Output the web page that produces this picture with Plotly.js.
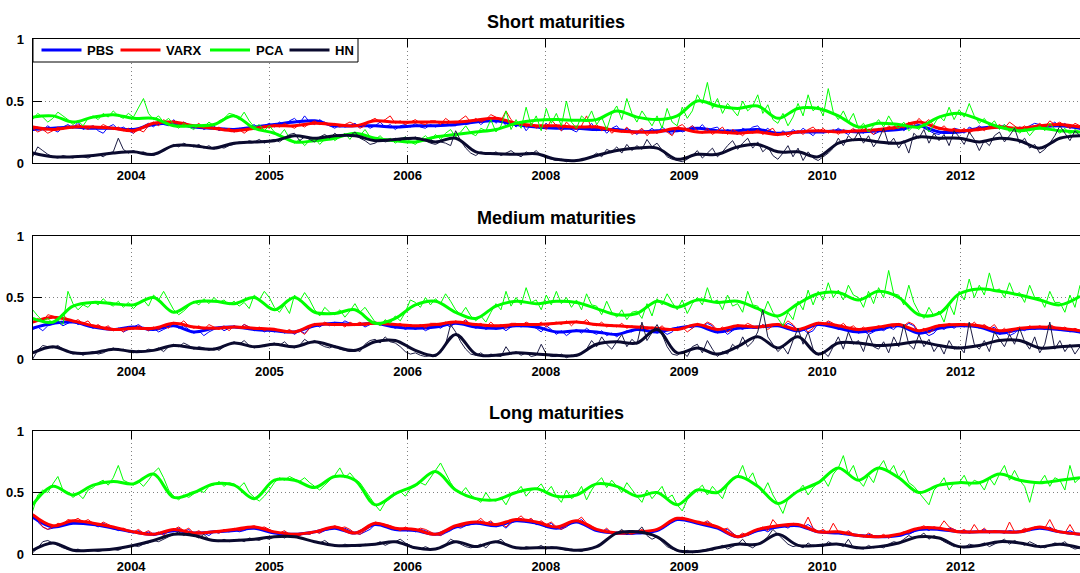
<!DOCTYPE html>
<html>
<head>
<meta charset="utf-8">
<script src="https://cdn.plot.ly/plotly-3.0.1.min.js"></script>
<style>
  html, body { margin: 0; padding: 0; background: #ffffff; }
  #chart { width: 1080px; height: 573px; }
</style>
</head>
<body>
<div id="chart"></div>
<script>
// Model names and tick labels
const models = ['PBS', 'VARX', 'PCA', 'HN'];
const tickPositions = [178, 428, 678, 928, 1178, 1428, 1678];
const tickLabels = ['2004', '2005', '2006', '2008', '2009', '2010', '2012'];
const panelTitles = ['Short maturities', 'Medium maturities', 'Long maturities'];

// ---------- Short maturities ----------
const shortPbsDaily = [.26,.29,.27,.30,.27,.25,.29,.31,.28,.33,.27,.29,.30,.26,.24,.29,.31,.27,.29,.26,.24,.28,.30,.32,.29,.34,.31,.30,.35,.30,.33,.31,.28,.30,.27,.29,.30,.26,.28,.27,.25,.28,.27,.29,.31,.27,.30,.32,.29,.33,.31,.34,.36,.32,.38,.33,.31,.35,.32,.30,.28,.31,.29,.30,.32,.29,.31,.28,.30,.33,.29,.31,.27,.30,.31,.29,.32,.29,.28,.31,.29,.31,.33,.30,.30,.34,.31,.32,.35,.31,.34,.37,.32,.36,.30,.33,.29,.33,.26,.31,.30,.27,.32,.28,.31,.26,.29,.27,.25,.30,.28,.32,.26,.29,.24,.28,.30,.25,.28,.26,.23,.27,.25,.28,.24,.29,.26,.23,.28,.25,.27,.30,.27,.31,.26,.28,.29,.24,.27,.25,.23,.28,.26,.29,.30,.25,.28,.24,.22,.26,.23,.27,.24,.28,.25,.22,.27,.24,.26,.25,.28,.25,.23,.27,.26,.24,.27,.23,.25,.28,.26,.29,.30,.26,.29,.33,.31,.28,.26,.24,.23,.26,.25,.28,.27,.24,.29,.27,.30,.27,.29,.31,.28,.31,.27,.26,.29,.28,.30,.32,.31,.28,.30,.33,.29,.32,.28,.30,.27];
const shortPbsSmooth = [.27,.28,.29,.28,.28,.27,.31,.32,.29,.28,.27,.29,.31,.33,.34,.30,.30,.30,.29,.30,.30,.31,.33,.34,.31,.29,.28,.28,.27,.27,.25,.26,.26,.28,.26,.26,.27,.24,.25,.25,.26,.25,.26,.27,.30,.25,.25,.28,.29,.27,.29,.30,.28];
const shortVarxDaily = [.28,.25,.27,.24,.26,.29,.27,.30,.28,.31,.29,.27,.30,.28,.31,.29,.27,.29,.26,.28,.24,.27,.25,.30,.33,.30,.35,.32,.34,.31,.33,.30,.29,.32,.28,.30,.27,.29,.26,.28,.25,.27,.24,.27,.29,.27,.30,.28,.31,.29,.32,.30,.28,.31,.29,.32,.34,.31,.33,.30,.32,.29,.31,.33,.31,.28,.30,.34,.36,.33,.35,.38,.32,.34,.31,.33,.35,.32,.31,.34,.34,.31,.36,.33,.32,.35,.38,.33,.36,.33,.35,.39,.37,.34,.42,.35,.31,.33,.29,.32,.28,.31,.27,.35,.30,.26,.33,.29,.27,.30,.38,.28,.31,.26,.29,.24,.27,.25,.29,.23,.25,.28,.22,.26,.24,.27,.25,.22,.29,.31,.27,.30,.26,.24,.28,.23,.26,.29,.23,.27,.25,.22,.26,.24,.27,.23,.26,.28,.22,.25,.21,.24,.26,.23,.27,.29,.25,.28,.24,.27,.23,.27,.25,.28,.24,.29,.26,.23,.28,.25,.30,.27,.31,.28,.33,.30,.36,.32,.35,.30,.27,.30,.26,.28,.25,.28,.24,.27,.29,.26,.30,.28,.31,.28,.33,.30,.27,.30,.26,.29,.32,.29,.34,.31,.33,.30,.28,.32,.30];
const shortVarxSmooth = [.29,.27,.29,.29,.28,.26,.32,.33,.30,.28,.26,.28,.30,.30,.32,.31,.30,.34,.33,.33,.33,.33,.345,.36,.32,.30,.30,.29,.29,.26,.25,.25,.28,.25,.25,.24,.25,.23,.25,.26,.25,.26,.27,.29,.33,.28,.26,.27,.29,.28,.30,.31,.29];
const shortPcaDaily = [.35,.40,.37,.33,.36,.41,.38,.35,.31,.34,.30,.36,.38,.35,.40,.37,.42,.38,.36,.40,.37,.44,.52,.40,.35,.38,.33,.36,.31,.28,.32,.29,.27,.31,.29,.33,.30,.34,.36,.40,.39,.35,.41,.34,.29,.31,.26,.30,.25,.22,.27,.20,.16,.19,.14,.18,.20,.15,.19,.22,.18,.21,.24,.19,.25,.22,.27,.21,.19,.22,.18,.20,.16,.19,.21,.17,.15,.19,.22,.18,.23,.19,.24,.27,.21,.25,.30,.24,.22,.28,.26,.35,.25,.30,.42,.27,.35,.28,.45,.30,.38,.26,.44,.32,.40,.30,.50,.33,.28,.38,.34,.42,.31,.37,.27,.40,.46,.35,.52,.40,.33,.42,.36,.30,.38,.28,.44,.33,.30,.45,.36,.42,.55,.48,.65,.44,.52,.40,.48,.43,.38,.50,.42,.46,.55,.40,.47,.35,.32,.40,.30,.37,.48,.38,.55,.42,.46,.38,.60,.41,.35,.42,.33,.40,.28,.32,.25,.30,.35,.29,.38,.31,.28,.33,.26,.30,.27,.32,.25,.31,.38,.34,.45,.35,.43,.37,.48,.38,.32,.36,.30,.34,.27,.31,.25,.29,.24,.28,.22,.27,.30,.26,.32,.27,.24,.28,.23,.27,.25];
const shortPcaSmooth = [.37,.38,.33,.37,.39,.36,.36,.30,.30,.31,.38,.28,.24,.17,.18,.20,.24,.20,.18,.17,.21,.23,.25,.27,.32,.345,.35,.345,.35,.42,.37,.35,.38,.50,.46,.44,.46,.36,.44,.44,.38,.29,.32,.31,.29,.37,.40,.35,.29,.26,.28,.26,.25];
const shortHnDaily = [.05,.13,.10,.07,.05,.04,.06,.05,.04,.06,.05,.04,.06,.07,.05,.08,.09,.20,.11,.08,.10,.08,.09,.07,.06,.08,.10,.12,.15,.13,.16,.14,.13,.15,.12,.14,.11,.13,.12,.14,.15,.17,.16,.18,.17,.19,.16,.18,.19,.17,.20,.23,.24,.18,.21,.19,.17,.21,.23,.20,.24,.21,.23,.22,.25,.20,.18,.15,.16,.19,.17,.18,.20,.18,.21,.19,.21,.19,.18,.16,.15,.17,.16,.14,.26,.18,.12,.08,.06,.09,.08,.07,.09,.06,.08,.10,.07,.05,.09,.07,.10,.06,.04,.03,.02,.03,.01,.02,.02,.03,.04,.05,.08,.05,.11,.09,.13,.08,.15,.10,.14,.11,.19,.13,.16,.10,.05,.03,.02,.01,.03,.06,.10,.04,.08,.12,.05,.09,.14,.18,.11,.16,.20,.12,.17,.09,.13,.06,.03,.08,.14,.05,.12,.02,.09,.04,.02,.05,.08,.12,.20,.14,.22,.18,.25,.16,.22,.13,.19,.28,.15,.20,.12,.18,.08,.24,.20,.27,.16,.24,.18,.23,.14,.26,.21,.15,.25,.19,.10,.18,.14,.22,.25,.17,.22,.28,.16,.20,.12,.15,.08,.11,.16,.22,.30,.24,.18,.26,.22];
const shortHnSmooth = [.08,.05,.05,.06,.08,.09,.07,.14,.14,.12,.16,.17,.18,.22,.20,.22,.22,.18,.19,.20,.17,.20,.09,.075,.07,.075,.03,.02,.06,.10,.12,.12,.03,.07,.07,.13,.15,.09,.09,.05,.16,.19,.17,.16,.21,.20,.20,.17,.20,.18,.12,.20,.22];

// ---------- Medium maturities ----------
const mediumPbsDaily = [.24,.26,.23,.27,.28,.30,.27,.29,.31,.28,.30,.27,.25,.27,.24,.26,.23,.25,.22,.24,.26,.28,.25,.23,.25,.22,.24,.26,.28,.25,.27,.24,.21,.23,.19,.22,.24,.26,.23,.25,.27,.25,.28,.26,.23,.25,.22,.24,.22,.24,.21,.23,.20,.23,.21,.25,.28,.26,.29,.27,.30,.28,.31,.29,.27,.29,.26,.28,.30,.28,.31,.27,.25,.27,.24,.26,.24,.26,.23,.25,.27,.25,.28,.26,.30,.28,.31,.27,.25,.27,.24,.26,.24,.26,.23,.26,.28,.26,.29,.27,.25,.22,.27,.24,.20,.23,.19,.22,.24,.21,.25,.22,.20,.23,.19,.21,.18,.21,.23,.22,.25,.23,.26,.24,.21,.23,.20,.22,.26,.24,.27,.25,.28,.26,.29,.27,.21,.24,.20,.23,.26,.24,.27,.25,.25,.28,.26,.27,.28,.26,.29,.27,.22,.24,.21,.23,.29,.27,.30,.28,.24,.26,.23,.25,.21,.23,.20,.22,.25,.23,.26,.24,.28,.26,.29,.27,.20,.22,.19,.21,.26,.24,.27,.25,.28,.26,.29,.27,.25,.27,.24,.26,.20,.22,.19,.21,.25,.23,.26,.24,.26,.24,.27,.25,.23,.25,.22,.24,.21];
const mediumPbsSmooth = [.25,.29,.30,.26,.24,.26,.24,.27,.22,.25,.26,.24,.23,.22,.27,.29,.28,.29,.26,.25,.26,.29,.26,.25,.27,.26,.22,.23,.22,.20,.24,.22,.25,.27,.22,.25,.26,.27,.23,.28,.25,.22,.24,.27,.21,.25,.27,.26,.21,.24,.25,.24,.22];
const mediumVarxDaily = [.29,.33,.30,.36,.35,.33,.36,.32,.30,.32,.29,.31,.26,.28,.25,.27,.23,.25,.22,.26,.24,.27,.25,.23,.26,.24,.27,.25,.30,.28,.31,.27,.25,.27,.24,.28,.26,.24,.27,.23,.27,.25,.28,.26,.24,.26,.23,.25,.25,.23,.22,.24,.21,.23,.20,.25,.29,.27,.30,.28,.27,.29,.26,.30,.28,.30,.27,.29,.30,.28,.31,.29,.27,.29,.26,.28,.26,.28,.25,.29,.29,.27,.30,.28,.31,.29,.32,.28,.27,.29,.26,.30,.26,.28,.25,.29,.29,.27,.30,.28,.27,.30,.26,.29,.30,.28,.31,.27,.31,.29,.32,.28,.27,.30,.26,.28,.26,.29,.25,.27,.25,.28,.24,.26,.24,.27,.23,.25,.23,.26,.22,.25,.29,.27,.30,.28,.23,.26,.22,.25,.28,.26,.29,.27,.25,.28,.24,.27,.29,.27,.31,.28,.23,.26,.22,.25,.30,.28,.31,.29,.26,.29,.25,.27,.23,.26,.22,.25,.27,.25,.28,.26,.29,.27,.30,.28,.22,.25,.21,.24,.28,.26,.29,.27,.27,.29,.26,.30,.26,.28,.25,.28,.22,.25,.21,.24,.26,.24,.27,.25,.27,.25,.28,.26,.24,.26,.23,.25,.23];
const mediumVarxSmooth = [.30,.34,.31,.27,.24,.25,.25,.29,.26,.25,.26,.25,.24,.22,.28,.28,.28,.29,.28,.27,.28,.30,.28,.27,.28,.28,.29,.30,.28,.27,.26,.25,.24,.28,.24,.27,.26,.28,.24,.29,.27,.24,.26,.28,.23,.27,.28,.27,.23,.25,.26,.25,.23];
const mediumPcaDaily = [.40,.35,.31,.33,.29,.32,.28,.55,.45,.40,.44,.42,.47,.44,.49,.45,.43,.47,.42,.46,.41,.45,.48,.43,.52,.48,.55,.47,.40,.36,.39,.43,.47,.44,.49,.45,.50,.46,.48,.44,.47,.43,.46,.41,.52,.48,.55,.50,.42,.38,.44,.37,.52,.47,.54,.48,.40,.35,.42,.38,.36,.40,.34,.39,.45,.38,.42,.36,.30,.27,.32,.29,.35,.31,.38,.48,.46,.42,.50,.44,.49,.45,.53,.47,.40,.36,.42,.35,.31,.35,.30,.38,.45,.40,.55,.43,.50,.44,.58,.46,.48,.40,.52,.44,.55,.45,.50,.42,.48,.40,.53,.44,.43,.36,.47,.38,.34,.40,.32,.38,.39,.33,.45,.35,.49,.44,.53,.46,.40,.48,.37,.45,.50,.44,.58,.46,.48,.40,.52,.43,.45,.38,.55,.44,.43,.36,.47,.38,.33,.27,.38,.32,.47,.40,.56,.44,.55,.48,.62,.50,.56,.48,.60,.52,.50,.42,.55,.45,.58,.50,.72,.53,.52,.44,.60,.46,.38,.33,.42,.35,.39,.30,.45,.36,.55,.48,.65,.50,.60,.52,.70,.55,.57,.50,.62,.52,.54,.46,.60,.50,.50,.42,.55,.46,.46,.38,.52,.42,.60];
const mediumPcaSmooth = [.33,.30,.43,.46,.45,.44,.50,.38,.46,.47,.45,.50,.40,.50,.38,.37,.40,.29,.33,.44,.47,.38,.33,.43,.47,.45,.47,.46,.41,.36,.37,.47,.42,.48,.46,.47,.41,.35,.45,.53,.54,.48,.55,.50,.36,.37,.53,.57,.55,.52,.48,.44,.51];
const mediumHnDaily = [.00,.07,.11,.10,.09,.11,.08,.06,.04,.05,.03,.05,.06,.04,.05,.07,.09,.07,.08,.06,.05,.07,.06,.08,.07,.09,.06,.10,.12,.10,.13,.11,.08,.10,.09,.07,.09,.07,.10,.12,.14,.12,.15,.11,.09,.11,.10,.12,.13,.11,.14,.10,.09,.11,.16,.13,.15,.12,.10,.09,.11,.08,.07,.06,.08,.06,.12,.15,.16,.13,.18,.14,.13,.10,.06,.04,.05,.03,.02,.03,.02,.05,.12,.28,.22,.14,.08,.04,.03,.05,.02,.04,.03,.02,.10,.04,.06,.03,.05,.02,.03,.12,.04,.02,.02,.04,.01,.03,.02,.05,.08,.15,.10,.18,.12,.08,.14,.20,.10,.16,.12,.30,.15,.22,.28,.20,.10,.04,.03,.06,.02,.10,.12,.05,.15,.08,.02,.06,.04,.12,.08,.18,.10,.14,.22,.40,.18,.12,.06,.10,.04,.15,.25,.12,.22,.08,.03,.06,.02,.10,.18,.08,.22,.12,.15,.06,.20,.10,.08,.14,.05,.18,.10,.28,.12,.08,.20,.10,.16,.06,.12,.04,.15,.08,.10,.05,.30,.12,.08,.15,.06,.22,.16,.10,.20,.12,.25,.14,.08,.18,.05,.12,.30,.08,.15,.06,.12,.04,.10];
const mediumHnSmooth = [.05,.10,.05,.05,.08,.06,.07,.11,.09,.08,.13,.10,.12,.10,.14,.10,.07,.14,.15,.07,.03,.20,.04,.03,.05,.04,.03,.03,.12,.14,.13,.24,.05,.09,.04,.10,.18,.09,.18,.04,.13,.13,.11,.12,.14,.11,.09,.11,.15,.15,.09,.10,.11];

// ---------- Long maturities ----------
const longPbsDaily = [.31,.26,.22,.20,.21,.24,.23,.26,.25,.27,.24,.26,.24,.22,.25,.23,.21,.19,.20,.18,.17,.19,.16,.18,.15,.17,.16,.18,.19,.21,.18,.20,.16,.18,.17,.15,.18,.17,.19,.18,.20,.18,.19,.21,.22,.20,.21,.19,.17,.16,.18,.15,.16,.15,.17,.16,.18,.17,.19,.20,.22,.20,.21,.19,.17,.16,.18,.20,.24,.25,.23,.22,.20,.19,.21,.20,.18,.20,.19,.17,.16,.15,.17,.19,.22,.21,.23,.24,.25,.27,.24,.26,.22,.24,.21,.25,.27,.29,.26,.28,.24,.26,.23,.25,.21,.20,.22,.25,.26,.28,.24,.22,.19,.18,.20,.17,.16,.18,.17,.16,.17,.19,.16,.18,.19,.21,.23,.26,.28,.29,.27,.26,.25,.24,.26,.23,.21,.19,.20,.17,.14,.16,.15,.17,.19,.20,.18,.21,.22,.23,.21,.24,.23,.22,.24,.21,.18,.19,.17,.18,.17,.16,.18,.16,.15,.14,.16,.15,.14,.15,.13,.15,.15,.17,.16,.18,.20,.21,.19,.22,.20,.19,.21,.20,.18,.19,.17,.18,.18,.20,.17,.19,.18,.17,.19,.18,.18,.20,.19,.21,.21,.20,.22,.19,.18,.17,.19,.17,.16];
const longPbsSmooth = [.30,.22,.25,.24,.21,.18,.16,.19,.17,.18,.19,.21,.17,.16,.18,.21,.17,.24,.20,.19,.16,.22,.25,.23,.27,.25,.21,.26,.19,.17,.17,.19,.28,.25,.21,.14,.19,.22,.23,.18,.17,.15,.14,.15,.20,.20,.18,.18,.18,.18,.21,.18,.16];
const longVarxDaily = [.33,.28,.22,.20,.22,.25,.24,.28,.27,.29,.26,.28,.25,.23,.26,.24,.22,.20,.21,.19,.18,.20,.17,.19,.16,.18,.15,.19,.20,.22,.19,.21,.17,.19,.16,.18,.18,.17,.20,.19,.21,.19,.20,.22,.23,.21,.22,.20,.18,.17,.19,.16,.16,.15,.17,.16,.18,.17,.20,.21,.23,.21,.22,.20,.17,.16,.19,.22,.26,.25,.24,.23,.21,.19,.22,.20,.19,.21,.20,.18,.16,.15,.18,.20,.23,.22,.24,.25,.26,.29,.25,.27,.23,.25,.22,.26,.28,.31,.27,.29,.25,.27,.24,.26,.22,.20,.23,.26,.27,.30,.25,.23,.20,.18,.21,.17,.16,.19,.17,.16,.18,.20,.17,.19,.20,.22,.24,.27,.29,.30,.28,.27,.26,.25,.27,.24,.22,.20,.21,.17,.14,.17,.15,.18,.20,.22,.19,.28,.23,.24,.22,.25,.24,.22,.30,.21,.18,.20,.17,.25,.18,.16,.19,.16,.15,.14,.17,.15,.14,.16,.13,.15,.16,.18,.17,.20,.21,.23,.20,.22,.21,.27,.22,.20,.18,.20,.17,.24,.18,.21,.17,.19,.18,.17,.26,.18,.18,.21,.19,.22,.22,.21,.28,.20,.18,.17,.24,.17,.16];
const longVarxSmooth = [.32,.23,.27,.25,.22,.18,.16,.20,.17,.18,.20,.22,.18,.16,.18,.22,.17,.25,.21,.20,.16,.23,.26,.24,.28,.26,.22,.27,.20,.17,.18,.20,.29,.26,.22,.14,.20,.23,.24,.18,.18,.15,.14,.16,.21,.21,.18,.18,.18,.18,.22,.18,.16];
const longPcaDaily = [.35,.48,.52,.50,.57,.63,.52,.50,.46,.49,.45,.52,.54,.58,.60,.56,.62,.72,.60,.58,.56,.59,.55,.60,.66,.70,.62,.52,.47,.44,.48,.46,.49,.52,.50,.55,.56,.59,.55,.58,.57,.54,.58,.50,.46,.43,.47,.52,.58,.62,.60,.63,.61,.59,.62,.58,.55,.52,.56,.60,.64,.70,.62,.66,.61,.58,.52,.45,.40,.35,.42,.45,.48,.51,.47,.53,.55,.58,.56,.62,.68,.74,.66,.58,.52,.49,.54,.48,.45,.42,.50,.44,.43,.46,.40,.48,.50,.55,.47,.52,.53,.57,.50,.55,.47,.42,.52,.45,.48,.55,.44,.52,.58,.62,.54,.60,.55,.50,.58,.52,.47,.42,.52,.45,.50,.55,.45,.48,.40,.35,.44,.48,.52,.56,.48,.55,.50,.45,.56,.60,.63,.72,.60,.66,.55,.50,.58,.48,.41,.33,.45,.48,.51,.56,.48,.54,.58,.62,.55,.65,.70,.80,.65,.72,.60,.55,.64,.58,.70,.76,.66,.72,.62,.68,.58,.55,.50,.45,.40,.52,.56,.62,.52,.58,.58,.64,.55,.60,.58,.52,.62,.56,.65,.72,.60,.68,.60,.55,.42,.58,.58,.64,.55,.62,.60,.52,.72,.58,.62];
const longPcaSmooth = [.40,.55,.48,.56,.59,.57,.65,.46,.50,.57,.56,.45,.60,.60,.54,.63,.60,.40,.49,.56,.67,.52,.45,.44,.50,.53,.47,.48,.57,.55,.47,.50,.40,.52,.50,.63,.55,.41,.51,.58,.70,.60,.70,.62,.50,.56,.58,.58,.65,.60,.58,.60,.62];
const longHnDaily = [.01,.05,.10,.11,.09,.07,.05,.04,.03,.04,.02,.03,.03,.02,.03,.04,.04,.03,.05,.06,.07,.06,.08,.09,.11,.10,.12,.14,.16,.18,.15,.17,.15,.13,.16,.12,.11,.10,.12,.10,.11,.12,.10,.13,.12,.11,.13,.12,.14,.15,.13,.15,.14,.13,.12,.11,.10,.09,.11,.08,.07,.06,.08,.07,.07,.06,.08,.07,.08,.10,.07,.09,.10,.12,.09,.07,.05,.04,.06,.04,.04,.05,.08,.12,.10,.08,.06,.05,.06,.08,.05,.09,.10,.12,.08,.06,.05,.04,.06,.05,.05,.07,.04,.06,.05,.04,.03,.04,.03,.02,.04,.05,.06,.09,.12,.15,.17,.20,.16,.19,.18,.22,.15,.12,.14,.10,.06,.04,.03,.02,.03,.01,.02,.03,.04,.03,.05,.07,.04,.06,.08,.12,.07,.05,.08,.10,.14,.20,.16,.12,.08,.06,.07,.05,.09,.06,.07,.06,.10,.08,.08,.06,.12,.05,.05,.04,.07,.05,.06,.05,.08,.10,.09,.12,.15,.13,.14,.17,.12,.15,.13,.10,.08,.06,.06,.05,.08,.07,.07,.09,.06,.08,.10,.12,.08,.11,.09,.07,.10,.08,.06,.05,.07,.09,.08,.10,.06,.04,.05];
const longHnSmooth = [.03,.09,.03,.03,.04,.07,.11,.16,.15,.11,.11,.12,.14,.14,.10,.07,.07,.08,.10,.05,.04,.10,.06,.10,.05,.05,.05,.03,.06,.17,.18,.14,.03,.02,.05,.08,.08,.16,.07,.07,.08,.05,.06,.09,.14,.13,.06,.07,.10,.09,.06,.08,.05];

// Colours per model
const colors = { PBS: '#0000ff', VARX: '#ff0000', PCA: '#00ff00', HN: '#0a0a2e' };
const thinColors = { PBS: '#0000ff', VARX: '#ff0000', PCA: '#00ff00', HN: '#1c1c44' };

const panels = [
  { PBS: [shortPbsDaily, shortPbsSmooth], VARX: [shortVarxDaily, shortVarxSmooth],
    PCA: [shortPcaDaily, shortPcaSmooth], HN: [shortHnDaily, shortHnSmooth] },
  { PBS: [mediumPbsDaily, mediumPbsSmooth], VARX: [mediumVarxDaily, mediumVarxSmooth],
    PCA: [mediumPcaDaily, mediumPcaSmooth], HN: [mediumHnDaily, mediumHnSmooth] },
  { PBS: [longPbsDaily, longPbsSmooth], VARX: [longVarxDaily, longVarxSmooth],
    PCA: [longPcaDaily, longPcaSmooth], HN: [longHnDaily, longHnSmooth] }
];

// Observation index span of the sample
const SPAN = 1894;
function obsIndex(n) {
  return Array.from({ length: n }, (_, i) => i * SPAN / (n - 1));
}

const traces = [];
panels.forEach((panel, p) => {
  const xa = p === 0 ? 'x' : 'x' + (p + 1);
  const ya = p === 0 ? 'y' : 'y' + (p + 1);
  models.forEach(m => {
    const [daily, smooth] = panel[m];
    traces.push({
      type: 'scatter', mode: 'lines', x: obsIndex(daily.length), y: daily,
      xaxis: xa, yaxis: ya, line: { color: thinColors[m], width: 1 },
      showlegend: false, hoverinfo: 'skip', name: m
    });
    traces.push({
      type: 'scatter', mode: 'lines', x: obsIndex(smooth.length), y: smooth,
      xaxis: xa, yaxis: ya, line: { color: colors[m], width: 3, shape: 'spline', smoothing: 1 },
      showlegend: false, name: m
    });
  });
});

const FONT = 'Liberation Sans, Arial, Helvetica, sans-serif';
const W = 1080, H = 573;
const plotTops = [39, 236, 431];
const plotBottoms = [163, 359, 554];
const titleY = [22, 218, 413];
const xLeft = 32.7 / W;
const px = v => v / W;
const py = v => 1 - v / H;

// Legend box drawn inside the top panel
const legendBox = { left: 33, right: 358, top: 38.5, bottom: 62 };
const legendSampleStart = [41.5, 120.5, 210, 289.5];
const legendSampleLength = 40;
const legendMidY = 50;

const shapes = [{
  type: 'rect', xref: 'paper', yref: 'paper',
  x0: px(legendBox.left), x1: px(legendBox.right), y0: py(legendBox.bottom), y1: py(legendBox.top),
  line: { color: '#000000', width: 1 }, fillcolor: '#ffffff', layer: 'above'
}];
const annotations = [];
models.forEach((m, i) => {
  shapes.push({
    type: 'line', xref: 'paper', yref: 'paper',
    x0: px(legendSampleStart[i]), x1: px(legendSampleStart[i] + legendSampleLength),
    y0: py(legendMidY), y1: py(legendMidY),
    line: { color: colors[m], width: 3 }, layer: 'above'
  });
  annotations.push({
    text: m, xref: 'paper', yref: 'paper',
    x: px(legendSampleStart[i] + legendSampleLength + 3.5), y: py(legendMidY),
    xanchor: 'left', yanchor: 'middle', showarrow: false,
    font: { family: FONT, size: 13, weight: 'bold', color: '#000000' }
  });
});
panelTitles.forEach((t, p) => {
  annotations.push({
    text: t, xref: 'paper', yref: 'paper', x: (xLeft + 1) / 2, y: py(titleY[p]),
    xanchor: 'center', yanchor: 'middle', showarrow: false,
    font: { family: FONT, size: 18, weight: 'bold', color: '#000000' }
  });
});

const layout = {
  width: W, height: H,
  margin: { l: 0, r: 0, t: 0, b: 0 },
  paper_bgcolor: '#ffffff', plot_bgcolor: '#ffffff',
  font: { family: FONT, size: 13, color: '#000000' },
  showlegend: false,
  shapes: shapes,
  annotations: annotations
};

for (let p = 0; p < 3; p++) {
  const sx = p === 0 ? '' : String(p + 1);
  layout['xaxis' + sx] = {
    domain: [xLeft, 1], range: [0, SPAN], anchor: 'y' + sx,
    tickmode: 'array', tickvals: tickPositions, ticktext: tickLabels,
    ticks: 'inside', ticklen: 8, tickwidth: 1, tickcolor: '#000000',
    showline: true, linecolor: '#000000', linewidth: 1, mirror: 'ticks',
    showgrid: true, gridcolor: '#808080', gridwidth: 1, griddash: '1px,3px',
    zeroline: false, fixedrange: true, ticklabelstandoff: 0,
    tickfont: { family: FONT, size: 13, weight: 'bold', color: '#000000' }
  };
  layout['yaxis' + sx] = {
    domain: [1 - plotBottoms[p] / H, 1 - plotTops[p] / H], range: [0, 1], anchor: 'x' + sx,
    tickmode: 'array', tickvals: [0, 0.5, 1], ticktext: ['0', '0.5', '1'],
    ticks: 'inside', ticklen: 9, tickwidth: 1, tickcolor: '#000000',
    showline: true, linecolor: '#000000', linewidth: 1, mirror: false,
    showgrid: true, gridcolor: '#808080', gridwidth: 1, griddash: '1px,3px',
    zeroline: false, fixedrange: true, ticklabelstandoff: 5,
    tickfont: { family: FONT, size: 13, weight: 'bold', color: '#000000' }
  };
}

Plotly.newPlot('chart', traces, layout, { displayModeBar: false, staticPlot: true });
</script>
</body>
</html>
